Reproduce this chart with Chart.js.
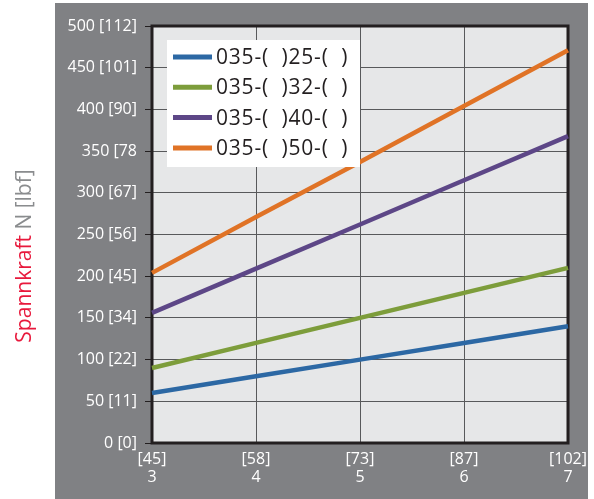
<!DOCTYPE html>
<html>
<head>
<meta charset="utf-8">
<script src="https://cdn.jsdelivr.net/npm/chart.js@4/dist/chart.umd.min.js"></script>
<style>
  html, body { margin: 0; padding: 0; background: #fff; }
  #wrap { width: 594px; height: 499px; }
</style>
</head>
<body>
<div id="wrap"><canvas id="myChart" width="594" height="499"></canvas></div>
<script>
// stroke (mm) on x, clamping force on y
const xValues = [3, 4, 5, 6, 7];
const xLbfLabels = ['[45]', '[58]', '[73]', '[87]', '[102]'];
const yTickLabels = ['0 [0]', '50 [11]', '100 [22]', '150 [34]', '200 [45]', '250 [56]',
    '300 [67]', '350 [78', '400 [90]', '450 [101]', '500 [112]'];

const seriesNames = ['035-(  )25-(  )', '035-(  )32-(  )', '035-(  )40-(  )', '035-(  )50-(  )'];
const s25 = [60, 80, 100, 120, 140];
const s32 = [90, 120, 150, 180, 210];
const s40 = [156, 209, 262, 315, 368];
const s50 = [204, 271, 337, 404, 471];
const colors = ['#2c68a4', '#7d9d3b', '#5d4787', '#e07326'];

const fontName = '"Open Sans", sans-serif';

const toPoints = (vals) => xValues.map((x, i) => ({ x: x, y: vals[i] }));

const panelPlugin = {
    id: 'panel',
    beforeDraw(chart) {
        const c = chart.ctx;
        const a = chart.chartArea;
        c.save();
        c.fillStyle = '#ffffff';
        c.fillRect(0, 0, chart.width, chart.height);
        c.fillStyle = '#808184';
        c.fillRect(55, 3, 533, chart.height - 3);
        c.fillStyle = '#e6e7e8';
        c.fillRect(a.left, a.top, a.right - a.left, a.bottom - a.top);
        c.restore();
    },
    beforeDatasetsDraw(chart) {
        const c = chart.ctx;
        const a = chart.chartArea;
        c.save();
        c.strokeStyle = '#231f20';
        c.lineWidth = 3;
        c.strokeRect(a.left, a.top, a.right - a.left, a.bottom - a.top);
        c.restore();
    },
    afterDatasetsDraw(chart) {
        const c = chart.ctx;
        c.save();
        // legend box
        c.fillStyle = '#ffffff';
        c.fillRect(167, 40, 193, 127);
        chart.data.datasets.forEach((ds, i) => {
            const y = 57 + i * 30.3;
            c.strokeStyle = ds.borderColor;
            c.lineWidth = 5;
            c.beginPath();
            c.moveTo(173, y);
            c.lineTo(212, y);
            c.stroke();
            c.fillStyle = '#231f20';
            c.font = '21px ' + fontName;
            c.letterSpacing = '0.8px';
            c.textBaseline = 'middle';
            c.textAlign = 'left';
            c.fillText(ds.label, 216, y + 1);
        });
        c.letterSpacing = '0px';
        // y axis title, two colours
        c.translate(25, 256);
        c.rotate(-Math.PI / 2);
        c.font = '21px ' + fontName;
        c.textBaseline = 'middle';
        const p1 = 'Spannkraft ';
        const p2 = 'N [lbf]';
        const w1 = c.measureText(p1).width;
        const w2 = c.measureText(p2).width;
        const start = -(w1 + w2) / 2;
        c.textAlign = 'left';
        c.fillStyle = '#e8193c';
        c.fillText(p1, start, 0);
        c.fillStyle = '#8a8c8e';
        c.fillText(p2, start + w1, 0);
        c.restore();
    }
};

const ctx = document.getElementById('myChart');

chart = new Chart(ctx, {
    type: 'line',
    data: {
        datasets: [
            { label: seriesNames[0], data: toPoints(s25), borderColor: colors[0] },
            { label: seriesNames[1], data: toPoints(s32), borderColor: colors[1] },
            { label: seriesNames[2], data: toPoints(s40), borderColor: colors[2] },
            { label: seriesNames[3], data: toPoints(s50), borderColor: colors[3] },
        ].map(d => Object.assign(d, { borderWidth: 4.5, pointRadius: 0, fill: false, tension: 0, clip: 4 })),
    },
    options: {
        responsive: false,
        animation: false,
        layout: { padding: { left: 55, top: 26, right: 26, bottom: 0 } },
        plugins: {
            legend: { display: false },
            tooltip: { enabled: false },
        },
        scales: {
            x: {
                type: 'linear',
                min: 3,
                max: 7,
                afterFit(scale) { scale.height = 56; },
                ticks: {
                    stepSize: 1,
                    color: '#ffffff',
                    padding: 7,
                    maxRotation: 0,
                    font: { family: fontName, size: 16, lineHeight: 1.15 },
                    callback: (v) => [xLbfLabels[xValues.indexOf(v)], String(v)],
                },
                grid: { color: '#58595b', lineWidth: 1, drawTicks: false },
                border: { display: false },
            },
            y: {
                min: 0,
                max: 500,
                afterFit(scale) { scale.width = 97; },
                ticks: {
                    stepSize: 50,
                    color: '#ffffff',
                    padding: 8,
                    font: { family: fontName, size: 16 },
                    callback: (v) => yTickLabels[Math.round(v / 50)],
                },
                grid: { color: '#58595b', lineWidth: 1, tickLength: 7, tickColor: '#231f20' },
                border: { display: false },
            },
        },
    },
    plugins: [panelPlugin],
});
</script>
</body>
</html>
